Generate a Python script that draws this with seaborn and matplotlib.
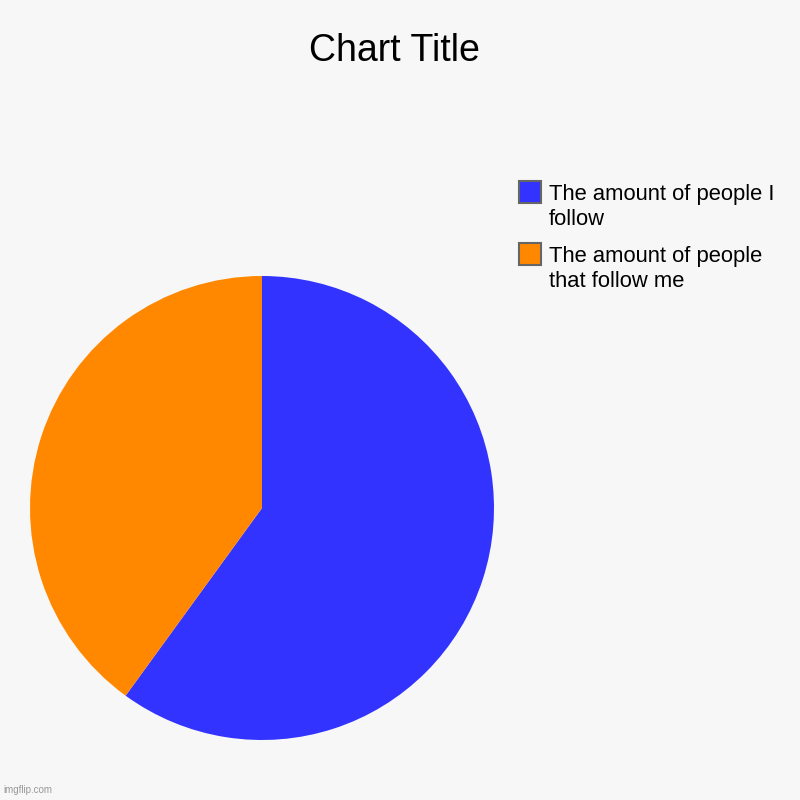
import matplotlib
matplotlib.use('Agg')
import matplotlib.pyplot as plt
from matplotlib.patches import Rectangle
import seaborn as sns

labels = ['The amount of people I\nfollow', 'The amount of people\nthat follow me']
values = [60, 40]
colors = ['#3333FF', '#FF8800']

sns.set_theme(style='white')
plt.rcParams['font.family'] = ['Liberation Sans', 'DejaVu Sans']

W = 800
fig = plt.figure(figsize=(8, 8), dpi=100, facecolor='#F7F7F7')
ax = fig.add_axes([30 / W, 60 / W, 464 / W, 464 / W])
ax.set_facecolor('#F7F7F7')
ax.pie(values, colors=colors, startangle=90, counterclock=False,
       wedgeprops={'linewidth': 0})
ax.set_xlim(-1, 1)
ax.set_ylim(-1, 1)
ax.set_aspect('equal')

fig.text(0.4925, 1 - 51 / W, 'Chart Title', ha='center', va='center', fontsize=27, color='black')

# legend, drawn by hand so the swatch sits next to the first text line
for i, (lab, col) in enumerate(zip(labels, colors)):
    top = 181 + 62 * i
    fig.patches.append(Rectangle((519 / W, 1 - (top + 22) / W), 22 / W, 22 / W,
                                 transform=fig.transFigure, facecolor=col,
                                 edgecolor='#666666', linewidth=1.5))
    fig.text(549 / W, 1 - (top + 26) / W, lab, ha='left', va='center',
             fontsize=15.8, color='black', linespacing=1.3)

fig.text(0.004, 0.006, 'imgflip.com', fontsize=7, color='#999999', ha='left', va='bottom')

fig.savefig('out.png', dpi=100, facecolor=fig.get_facecolor())
